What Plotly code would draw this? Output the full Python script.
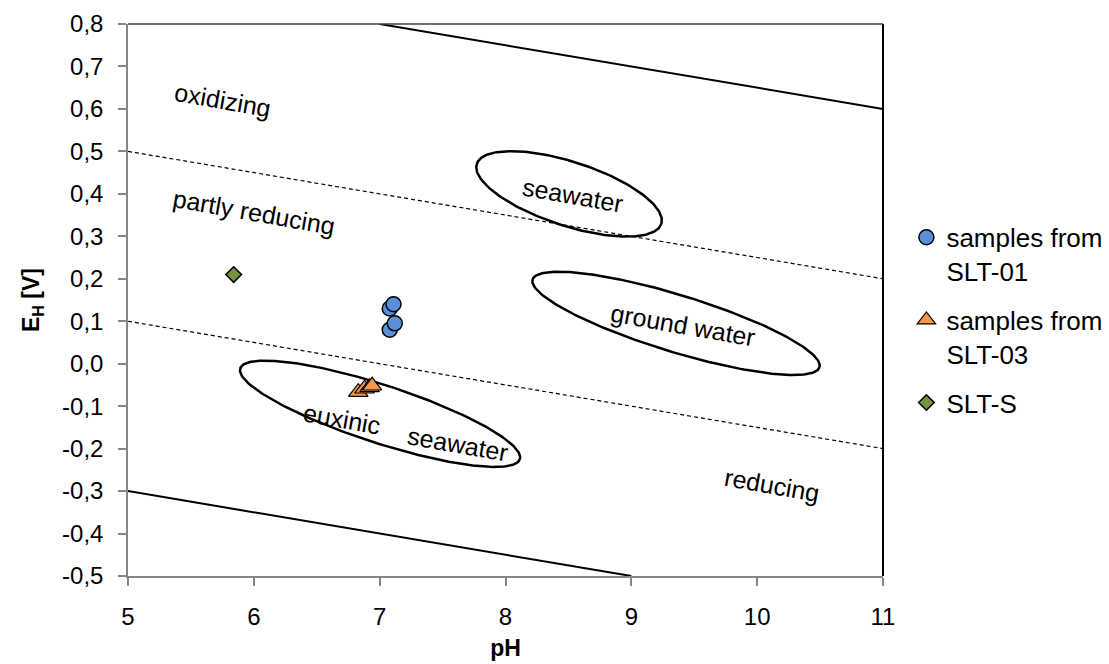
import numpy as np
import plotly.graph_objects as go

# ---- measured samples (pH, Eh in V) ----
slt01_ph = [7.08, 7.11, 7.08, 7.12]
slt01_eh = [0.13, 0.14, 0.08, 0.095]
slt03_ph = [6.83, 6.88, 6.92, 6.94]
slt03_eh = [-0.067, -0.059, -0.056, -0.052]
slts_ph = [5.84]
slts_eh = [0.21]

# ---- redox zone boundaries (end points) ----
upper_solid_ph = [7, 11]
upper_solid_eh = [0.8, 0.6]
upper_dash_ph = [5, 11]
upper_dash_eh = [0.5, 0.2]
lower_dash_ph = [5, 11]
lower_dash_eh = [0.1, -0.2]
lower_solid_ph = [5, 9]
lower_solid_eh = [-0.3, -0.5]

# ---- water-type fields: centre (pH, Eh), semi-axes (px), tilt (deg, clockwise) ----
field_names = ["seawater", "ground water", "euxinic seawater"]
field_ph = [8.505, 9.355, 7.003]
field_eh = [0.40, 0.095, -0.118]
field_major = [97, 150, 147]
field_minor = [32, 28.5, 29]
field_tilt = [18, 17, 18]

# ---- zone / field labels ----
label_text = ["oxidizing", "partly reducing", "seawater", "ground water",
              "euxinic", "seawater", "reducing"]
label_ph = [5.75, 6.0, 8.53, 9.41, 6.70, 7.62, 10.12]
label_eh = [0.62, 0.357, 0.397, 0.091, -0.13, -0.19, -0.286]

# axis ticks
x_ticks = [5, 6, 7, 8, 9, 10, 11]
y_ticks = [-0.5, -0.4, -0.3, -0.2, -0.1, 0.0, 0.1, 0.2, 0.3, 0.4, 0.5, 0.6, 0.7, 0.8]
y_tick_text = ["-0,5", "-0,4", "-0,3", "-0,2", "-0,1", "0,0", "0,1", "0,2",
               "0,3", "0,4", "0,5", "0,6", "0,7", "0,8"]

# plot geometry
W, H = 1109, 664
ML, MR, MT, MB = 128, 226, 24, 88
X_RANGE = [5, 11]
Y_RANGE = [-0.5, 0.8]
PX_PER_PH = (W - ML - MR) / (X_RANGE[1] - X_RANGE[0])
PX_PER_V = (H - MT - MB) / (Y_RANGE[1] - Y_RANGE[0])

FONT = "Liberation Sans, Arial, sans-serif"

fig = go.Figure()

# boundary lines
for xs, ys, dash, w in [
    (upper_solid_ph, upper_solid_eh, "solid", 2),
    (upper_dash_ph, upper_dash_eh, "4px,3px", 1.2),
    (lower_dash_ph, lower_dash_eh, "4px,3px", 1.2),
    (lower_solid_ph, lower_solid_eh, "solid", 2),
]:
    fig.add_trace(go.Scatter(x=xs, y=ys, mode="lines",
                             line=dict(color="black", width=w, dash=dash),
                             showlegend=False, hoverinfo="skip"))

# tilted ellipses for water types (shape defined in screen pixels)
t = np.linspace(0, 2 * np.pi, 241)
for name, cx, cy, a, b, th in zip(field_names, field_ph, field_eh,
                                  field_major, field_minor, field_tilt):
    r = np.deg2rad(th)
    sx = a * np.cos(t) * np.cos(r) - b * np.sin(t) * np.sin(r)
    sy = a * np.cos(t) * np.sin(r) + b * np.sin(t) * np.cos(r)
    fig.add_trace(go.Scatter(x=cx + sx / PX_PER_PH, y=cy - sy / PX_PER_V,
                             mode="lines", line=dict(color="black", width=2.5),
                             name=name, showlegend=False, hoverinfo="skip"))

# samples
fig.add_trace(go.Scatter(x=slt01_ph, y=slt01_eh, mode="markers",
                         name="samples from<br>SLT-01", legendgroup="a",
                         marker=dict(symbol="circle", size=15, color="#5b8fd6",
                                     line=dict(color="black", width=1.5))))
fig.add_trace(go.Scatter(x=slt03_ph, y=slt03_eh, mode="markers",
                         name="samples from<br>SLT-03", legendgroup="b",
                         marker=dict(symbol="triangle-up", size=17, color="#f79646",
                                     line=dict(color="black", width=1.2))))
fig.add_trace(go.Scatter(x=slts_ph, y=slts_eh, mode="markers",
                         name="SLT-S", legendgroup="c",
                         marker=dict(symbol="diamond", size=12, color="#77933c",
                                     line=dict(color="black", width=1.5))))

for txt, x, y in zip(label_text, label_ph, label_eh):
    fig.add_annotation(x=x, y=y, text=txt, showarrow=False, textangle=10,
                       font=dict(family=FONT, size=25, color="black"))

# plot-area frame on top and right
fig.add_shape(type="line", xref="paper", yref="paper", x0=0, x1=1, y0=1, y1=1,
              line=dict(color="#404040", width=1.5))
fig.add_shape(type="line", xref="paper", yref="paper", x0=1, x1=1, y0=0, y1=1,
              line=dict(color="black", width=2))

axis_common = dict(showline=True, linecolor="#868686", linewidth=1.5,
                   ticks="outside", ticklen=8, tickwidth=1.5, tickcolor="#868686",
                   showgrid=False, zeroline=False,
                   tickfont=dict(family=FONT, size=24, color="black"))

fig.update_xaxes(range=X_RANGE, tickvals=x_ticks, ticktext=[str(v) for v in x_ticks],
                 ticklabelstandoff=10,
                 title=dict(text="<b>pH</b>", standoff=11,
                            font=dict(family=FONT, size=23, color="black")),
                 **axis_common)
fig.update_yaxes(range=Y_RANGE, tickvals=y_ticks, ticktext=y_tick_text,
                 ticklabelstandoff=10,
                 title=dict(text="<b>E<sub>H</sub> [V]</b>", standoff=16,
                            font=dict(family=FONT, size=23, color="black")),
                 **axis_common)

fig.update_layout(
    width=W, height=H,
    margin=dict(l=ML, r=MR, t=MT, b=MB, autoexpand=False),
    plot_bgcolor="white", paper_bgcolor="white",
    font=dict(family=FONT, size=23, color="black"),
    legend=dict(x=1.031, y=0.656, xanchor="left", yanchor="top", valign="top",
                tracegroupgap=12, font=dict(family=FONT, size=26, color="black"),
                bgcolor="rgba(0,0,0,0)", itemclick=False, itemdoubleclick=False),
)

fig.write_html("out.html")
